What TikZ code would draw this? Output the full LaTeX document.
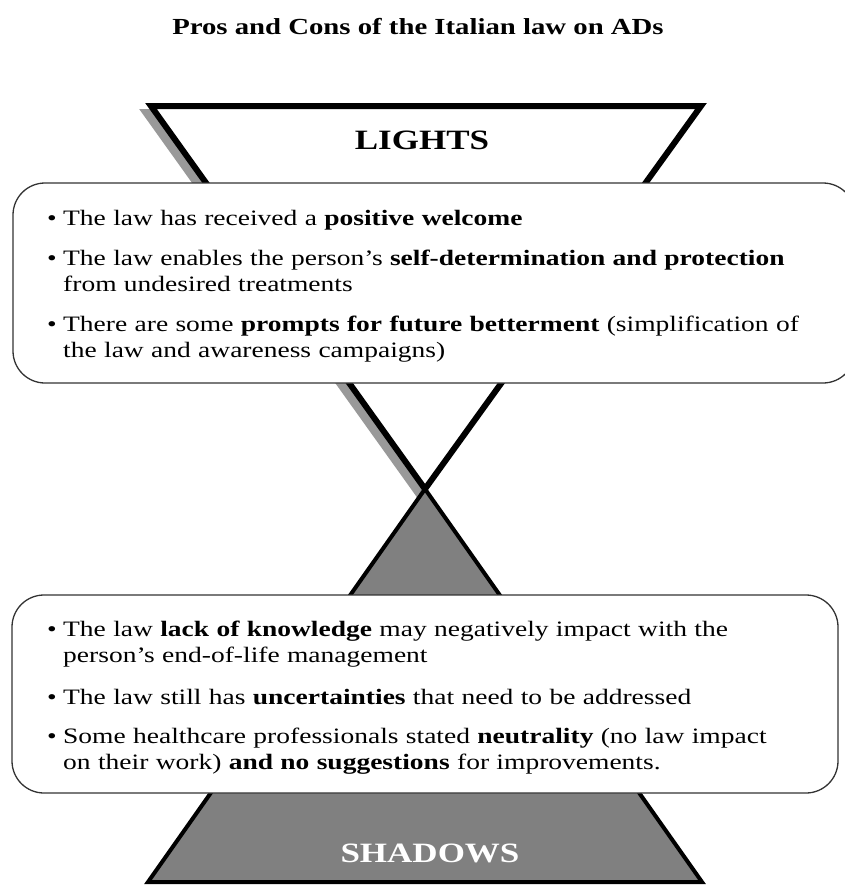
\documentclass[tikz,border=0pt]{standalone}
\usepackage{fontspec}
\setmainfont{Liberation Serif}[FakeStretch=1.25]
\newcommand{\bul}[1]{\hyphenpenalty=10000\exhyphenpenalty=10000\hangindent=16pt\hangafter=1\noindent\makebox[16pt][l]{\textbullet}#1\par}
\begin{document}
\begin{tikzpicture}[x=1pt,y=-1pt,
  tri/.style={line width=6pt, line join=miter},
  infobox/.style={draw=black!80, line width=1.3pt, fill=white, rounded corners=32pt},
  item/.style={anchor=north west, align=left, inner sep=0pt, font=\fontsize{22}{26}\selectfont},
  banner/.style={font=\bfseries\fontsize{28}{30}\selectfont}
]
\useasboundingbox (0,0) rectangle (845,886);
\node[font=\bfseries\fontsize{23}{26}\selectfont] (title) at (418,27) {Pros and Cons of the Italian law on ADs};
\coordinate (tl) at (151,106);
\coordinate (tr) at (701,106);
\coordinate (apex) at (425,489);
\coordinate (bl) at (148,882);
\coordinate (br) at (702,882);
% shadow of upper triangle
\draw[tri, draw=black!40, fill=black!40] ([shift={(-6,6)}]tl) -- ([shift={(-6,6)}]tr) -- ([shift={(-6,6)}]apex) -- cycle;
% upper triangle
\draw[tri, fill=white] (tl) -- (tr) -- (apex) -- cycle;
% lower triangle
\draw[line width=4pt, line join=miter, fill=black!50] (apex) -- (br) -- (bl) -- cycle;
\node[banner] (lights) at (422,140) {LIGHTS};
\node[banner, text=white] (shadows) at (430,853) {SHADOWS};
% boxes
\node[infobox, minimum width=842pt, minimum height=200pt] (lightsbox) at (434,283) {};
\node[infobox, minimum width=826pt, minimum height=198pt] (shadowsbox) at (425,694) {};
% upper items
\node[item, text width=758pt] (l1) at (47,210) {\bul{The law has received a \textbf{positive welcome}}};
\node[item, text width=758pt] (l2) at (47,250) {\bul{The law enables the person’s \textbf{self-determination and protection} from undesired treatments}};
\node[item, text width=758pt] (l3) at (47,316) {\bul{There are some \textbf{prompts for future betterment} (simplification of the law and awareness campaigns)}};
% lower items
\node[item, text width=738pt] (s1) at (47,621) {\bul{The law \textbf{lack of knowledge} may negatively impact with the person’s end-of-life management}};
\node[item, text width=738pt] (s2) at (47,689) {\bul{The law still has \textbf{uncertainties} that need to be addressed}};
\node[item, text width=738pt] (s3) at (47,728) {\bul{Some healthcare professionals stated \textbf{neutrality} (no law impact on their work) \textbf{and no suggestions} for improvements.}};
\end{tikzpicture}
\end{document}
